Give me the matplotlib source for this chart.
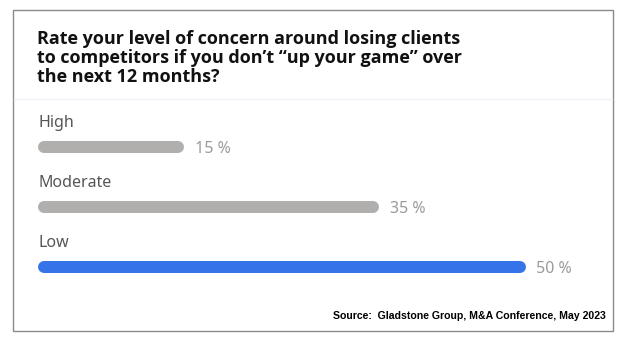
import matplotlib.pyplot as plt
from matplotlib.patches import Rectangle
from matplotlib.lines import Line2D

# data
categories = ["High", "Moderate", "Low"]
values = [15, 35, 50]
bar_colors = ["#b0afae", "#b0afae", "#3574e8"]

title = "Rate your level of concern around losing clients\nto competitors if you don\u2019t \u201cup your game\u201d over\nthe next 12 months?"
source = "Source:  Gladstone Group, M&A Conference, May 2023"

W, H = 633, 341
fig = plt.figure(figsize=(W / 100, H / 100), dpi=100)
fig.patch.set_facecolor("white")


def fx(x):
    return x / W


def fy(y):
    return 1 - y / H


# outer card border and separator
fig.patches.append(Rectangle((fx(12.5), fy(331)), (613 - 12.5) / W, (331 - 9.5) / H,
                             transform=fig.transFigure, fill=False,
                             edgecolor="#8a8a8a", lw=1.0))
fig.lines.append(Line2D([fx(13.5), fx(612)], [fy(98.7), fy(98.7)],
                        transform=fig.transFigure, color="#eef2f6", lw=1.0))

fig.text(fx(37), fy(29.5), title, fontsize=13, fontweight="bold", family="Open Sans",
         color="#111111", va="top", ha="left", linespacing=1.1)

fig.text(fx(606), fy(316), source, fontsize=7.6, fontweight="bold",
         family="Liberation Sans", color="black", ha="right", va="center")

# bars axis: 9.75 px per percent, 60 px per row
px_per_pct = 9.75
ax = fig.add_axes([fx(38), fy(297), 570 / W, 180 / H])
ax.set_xlim(0, 570 / px_per_pct)
ax.set_ylim(2.5, -0.5)
ax.axis("off")

lw_px = 12
cap = (lw_px / 2) / px_per_pct
for i, (cat, v, c) in enumerate(zip(categories, values, bar_colors)):
    ax.plot([cap, v - cap], [i, i], color=c, lw=lw_px * 0.72,
            solid_capstyle="round")
    ax.text(0, i - 0.4, cat, fontsize=11.5, family="Noto Sans", color="#555555",
            ha="left", va="center")
    ax.text(v + 1.1, i + 0.03, f"{v} %", fontsize=11.5, family="Noto Sans",
            color="#9a9a9a", ha="left", va="center")

fig.savefig("out.png", dpi=100)
